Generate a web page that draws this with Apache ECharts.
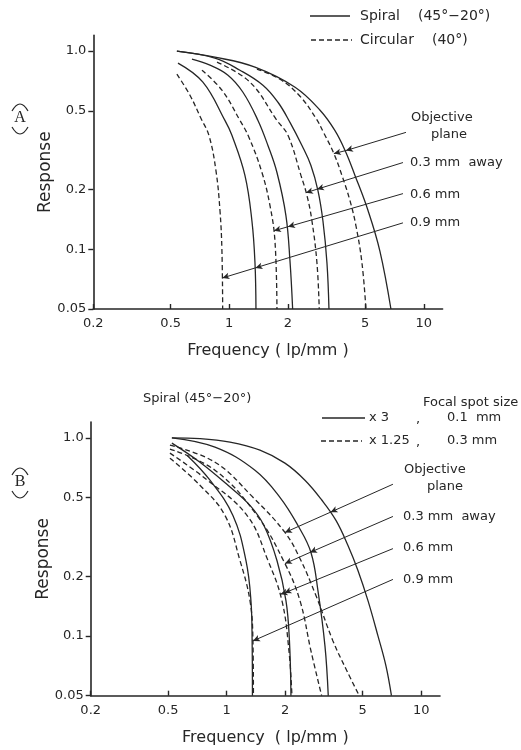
<!DOCTYPE html>
<html>
<head>
<meta charset="utf-8">
<script src="https://cdn.jsdelivr.net/npm/echarts@6/dist/echarts.min.js"></script>
<style>
  html, body { margin: 0; padding: 0; background: #fff; }
  #chart { width: 521px; height: 750px; }
</style>
</head>
<body>
<div id="chart"></div>
<script>
// tick values (lp/mm and response)
const xTicks = [0.2, 0.5, 1, 2, 5, 10];
const yTicks = [0.05, 0.1, 0.2, 0.5, 1];

// panel A: spiral (solid) and circular (dashed), [frequency, response]
const aSpiralObj = [[0.538,1.0],[0.844,0.932],[1.356,0.83],[2.18,0.657],[2.93,0.503],[3.49,0.398],[3.94,0.315],[4.43,0.236],[5.17,0.157],[5.95,0.098],[6.78,0.05]];
const aSpiral03 = [[0.538,1.0],[0.844,0.922],[1.135,0.801],[1.49,0.673],[1.78,0.552],[2.052,0.437],[2.365,0.334],[2.63,0.265],[2.858,0.198],[3.032,0.139],[3.179,0.0855],[3.256,0.05]];
const aSpiral06 = [[0.643,0.911],[0.796,0.849],[0.985,0.756],[1.176,0.62],[1.405,0.447],[1.581,0.334],[1.759,0.244],[1.956,0.148],[2.052,0.0875],[2.118,0.05]];
const aSpiral09 = [[0.545,0.87],[0.732,0.697],[0.95,0.447],[1.032,0.376],[1.204,0.236],[1.308,0.139],[1.356,0.0855],[1.372,0.05]];
const aCircObj = [[1.388,0.811],[1.823,0.721],[2.31,0.592],[2.791,0.458],[3.068,0.385],[3.453,0.304],[3.797,0.236],[4.175,0.176],[4.481,0.1315],[4.811,0.0855],[5.045,0.05]];
const aCirc03 = [[0.865,0.88],[1.278,0.697],[1.759,0.447],[2.004,0.376],[2.337,0.236],[2.509,0.187],[2.662,0.139],[2.824,0.0855],[2.902,0.05]];
const aCirc06 = [[0.724,0.801],[0.917,0.635],[1.135,0.447],[1.263,0.367],[1.473,0.244],[1.62,0.166],[1.718,0.11],[1.759,0.05]];
const aCirc09 = [[0.538,0.765],[0.628,0.599],[0.715,0.458],[0.786,0.376],[0.854,0.25],[0.896,0.157],[0.917,0.0983],[0.925,0.05]];

// panel B: x3 / 0.1 mm (solid) and x1.25 / 0.3 mm (dashed)
const bX3Obj = [[0.523,1.0],[0.729,0.991],[1.04,0.951],[1.483,0.866],[1.994,0.745],[2.527,0.611],[3.09,0.484],[3.648,0.383],[4.205,0.286],[4.732,0.214],[5.328,0.1508],[5.997,0.1002],[6.592,0.0707],[7.035,0.05]];
const bX3_03 = [[0.523,1.0],[0.871,0.897],[1.398,0.686],[1.879,0.501],[2.326,0.361],[2.713,0.264],[2.948,0.169],[3.202,0.0892],[3.33,0.05]];
const bX3_06 = [[0.523,0.94],[0.729,0.753],[1.016,0.576],[1.318,0.456],[1.555,0.361],[1.814,0.2403],[2.018,0.1508],[2.103,0.0945],[2.141,0.05]];
const bX3_09 = [[0.625,0.817],[0.821,0.611],[1.077,0.406],[1.257,0.2403],[1.333,0.1508],[1.352,0.0945],[1.357,0.05]];
const bX125Obj = [[0.511,0.918],[0.871,0.753],[1.365,0.501],[1.994,0.333],[2.382,0.246],[2.878,0.16],[3.52,0.0945],[4.155,0.0666],[4.805,0.05]];
const bX125_03 = [[0.511,0.877],[0.871,0.686],[1.432,0.406],[1.994,0.2321],[2.382,0.1508],[2.713,0.0842],[3.079,0.05]];
const bX125_06 = [[0.511,0.837],[0.773,0.625],[1.272,0.406],[1.631,0.2403],[1.924,0.1508],[2.091,0.0842],[2.166,0.05]];
const bX125_09 = [[0.511,0.789],[0.729,0.576],[0.98,0.406],[1.171,0.2403],[1.318,0.1508],[1.365,0.0945],[1.373,0.05]];

// annotation arrows: start, (crossing), end
const aArrowObj = [[8.10,0.389],[3.98,0.315],[3.45,0.304]];
const aArrow03 = [[7.82,0.274],[2.824,0.201],[2.48,0.193]];
const aArrow06 = [[7.82,0.191],[2.004,0.130],[1.697,0.124]];
const aArrow09 = [[7.82,0.136],[1.362,0.0806],[0.922,0.0717]];
const bArrowObj = [[7.16,0.583],[3.42,0.4215],[1.994,0.333]];
const bArrow03 = [[7.16,0.401],[2.681,0.264],[1.994,0.232]];
const bArrow06 = [[7.16,0.276],[1.982,0.165],[1.891,0.1625]];
const bArrow09 = [[7.16,0.193],[1.365,0.0945]];

const INK = '#262626';
const FONT = 'DejaVu Sans';

function fmtX(v) { return String(+(+v).toPrecision(3)); }
function fmtY(v) { const r = +(+v).toPrecision(3); return r === 1 ? '1.0' : String(r); }

function xAxisCfg(idx, name) {
  return {
    type: 'log', logBase: 10, gridIndex: idx, min: 0.2, max: 12.5,
    name: name, nameLocation: 'middle', nameGap: 34, nameMoveOverlap: false,
    nameTextStyle: { fontFamily: FONT, fontSize: 16, color: INK },
    axisLine: { lineStyle: { color: INK, width: 1.6 } },
    axisTick: { inside: true, length: 5, customValues: xTicks, lineStyle: { color: INK, width: 1.4 } },
    axisLabel: { customValues: xTicks, formatter: fmtX, margin: 8, fontFamily: FONT, fontSize: 13, color: INK },
    minorTick: { show: false }, splitLine: { show: false }
  };
}
function yAxisCfg(idx) {
  return {
    type: 'log', logBase: 10, gridIndex: idx, min: 0.05, max: 1.2,
    name: 'Response', nameLocation: 'middle', nameGap: 39, nameRotate: 90, nameMoveOverlap: false,
    nameTextStyle: { fontFamily: FONT, fontSize: 17, color: INK },
    axisLine: { lineStyle: { color: INK, width: 1.6 } },
    axisTick: { inside: false, length: 5, customValues: yTicks, lineStyle: { color: INK, width: 1.4 } },
    axisLabel: { customValues: yTicks, formatter: fmtY, margin: 7, fontFamily: FONT, fontSize: 13, color: INK },
    splitLine: { show: false }
  };
}

function arrowSegs(pts) {
  const segs = [];
  for (let i = 0; i < pts.length - 1; i++) {
    segs.push([{ coord: pts[i] }, { coord: pts[i + 1] }]);
  }
  return segs;
}

function curve(data, idx, dashed, arrows) {
  const s = {
    type: 'line', data: data, xAxisIndex: idx, yAxisIndex: idx,
    smooth: 0.4, showSymbol: false, silent: true,
    lineStyle: { color: INK, width: 1.3, type: dashed ? [5, 3] : 'solid' }
  };
  if (arrows) {
    let segs = [];
    arrows.forEach(a => { segs = segs.concat(arrowSegs(a)); });
    s.markLine = {
      silent: true, symbol: ['none', 'arrow'], symbolSize: [5, 7],
      label: { show: false },
      lineStyle: { color: INK, width: 1, type: 'solid' },
      data: segs
    };
  }
  return s;
}

function txt(x, y, text, size) {
  return {
    type: 'text', x: x, y: y,
    style: { text: text, font: size + 'px "' + FONT + '"', fill: INK, verticalAlign: 'middle' }
  };
}
function seg(x1, y1, x2, y2, dashed) {
  return {
    type: 'line', shape: { x1: x1, y1: y1, x2: x2, y2: y2 },
    style: { stroke: INK, lineWidth: 1.3, lineDash: dashed ? [5, 3] : null }
  };
}
// panel tag: letter between a top and a bottom bracket curve
function tag(cx, cy, ch) {
  return [
    { type: 'bezierCurve', shape: { x1: cx - 8, y1: cy - 7, x2: cx + 8, y2: cy - 7, cpx1: cx, cpy1: cy - 21 },
      style: { stroke: INK, lineWidth: 1.2, fill: null } },
    { type: 'text', x: cx, y: cy,
      style: { text: ch, font: '16px "Liberation Serif"', fill: INK, align: 'center', verticalAlign: 'middle' } },
    { type: 'bezierCurve', shape: { x1: cx - 8, y1: cy + 9, x2: cx + 8, y2: cy + 9, cpx1: cx, cpy1: cy + 23 },
      style: { stroke: INK, lineWidth: 1.2, fill: null } }
  ];
}

const chart = echarts.init(document.getElementById('chart'), null, { renderer: 'canvas' });

const option = {
  backgroundColor: '#fff',
  animation: false,
  grid: [
    { left: 93.3, top: 35.4, width: 349.3, height: 273.6 },
    { left: 90.7, top: 422.1, width: 349.3, height: 273.6 }
  ],
  xAxis: [xAxisCfg(0, 'Frequency ( lp/mm )'), xAxisCfg(1, 'Frequency  ( lp/mm )')],
  yAxis: [yAxisCfg(0), yAxisCfg(1)],
  series: [
    curve(aSpiralObj, 0, false, [aArrowObj, aArrow03, aArrow06, aArrow09]),
    curve(aSpiral03, 0, false),
    curve(aSpiral06, 0, false),
    curve(aSpiral09, 0, false),
    curve(aCircObj, 0, true),
    curve(aCirc03, 0, true),
    curve(aCirc06, 0, true),
    curve(aCirc09, 0, true),
    curve(bX3Obj, 1, false, [bArrowObj, bArrow03, bArrow06, bArrow09]),
    curve(bX3_03, 1, false),
    curve(bX3_06, 1, false),
    curve(bX3_09, 1, false),
    curve(bX125Obj, 1, true),
    curve(bX125_03, 1, true),
    curve(bX125_06, 1, true),
    curve(bX125_09, 1, true)
  ],
  graphic: [].concat(
    [
      // panel A legend
      seg(310, 16, 350, 16, false),
      txt(360, 16, 'Spiral', 14),
      txt(418, 16, '(45°\u221220°)', 14),
      seg(311, 40, 352, 40, true),
      txt(360, 40, 'Circular', 14),
      txt(432, 40, '(40°)', 14),
      // panel A annotations
      txt(411, 118, 'Objective', 13),
      txt(431, 135, 'plane', 13),
      txt(410, 163, '0.3 mm  away', 13),
      txt(410, 195, '0.6 mm', 13),
      txt(410, 223, '0.9 mm', 13),
      // panel B header and legend
      txt(143, 399, 'Spiral (45°\u221220°)', 13),
      txt(423, 403, 'Focal spot size', 13),
      seg(322, 418, 365, 418, false),
      txt(369, 418, 'x 3', 13),
      txt(416, 420, ',', 13),
      txt(447, 418, '0.1  mm', 13),
      seg(321, 441, 362, 441, true),
      txt(369, 441, 'x 1.25', 13),
      txt(416, 443, ',', 13),
      txt(447, 441, '0.3 mm', 13),
      // panel B annotations
      txt(404, 470, 'Objective', 13),
      txt(427, 487, 'plane', 13),
      txt(403, 517, '0.3 mm  away', 13),
      txt(403, 548, '0.6 mm', 13),
      txt(403, 580, '0.9 mm', 13)
    ],
    tag(20, 118, 'A'),
    tag(20, 482, 'B')
  )
};

chart.setOption(option);
</script>
</body>
</html>
